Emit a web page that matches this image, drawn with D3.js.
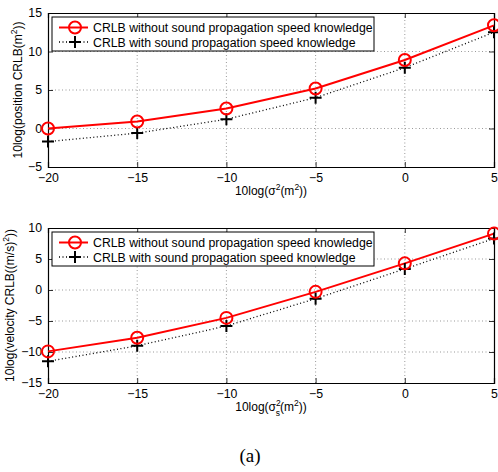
<!DOCTYPE html>
<html>
<head>
<meta charset="utf-8">
<script src="https://cdn.jsdelivr.net/npm/d3@7"></script>
<style>
body { margin: 0; background: #fff; }
svg { display: block; }
text { font-family: "Liberation Sans", Arial, sans-serif; fill: #000; }
</style>
</head>
<body>
<div id="chart"></div>
<script>
// data
var xVals = [-20, -15, -10, -5, 0, 5];
var posWithout = [0.0, 0.9, 2.6, 5.2, 8.9, 13.4];
var posWith = [-1.7, -0.6, 1.2, 4.0, 7.9, 12.5];
var velWithout = [-9.9, -7.7, -4.5, -0.3, 4.3, 9.1];
var velWith = [-11.5, -9.0, -5.8, -1.4, 3.4, 8.3];
var legendLabels = ["CRLB without sound propagation speed knowledge",
                    "CRLB with sound propagation speed knowledge"];
var posTicks = [-5, 0, 5, 10, 15];
var velTicks = [-15, -10, -5, 0, 5, 10];

var width = 498, height = 472;
var fs = 12.3;
var svg = d3.select("#chart").append("svg")
    .attr("width", width)
    .attr("height", height);

function fmt(d){ return d < 0 ? "\u2212" + Math.abs(d) : "" + d }

function panel(cfg){
    var x = d3.scaleLinear().domain([-20, 5]).range([48, 494]);
    var y = d3.scaleLinear().domain(cfg.domain).range([cfg.bottom, cfg.top]);
    var g = svg.append("g");

    // grid
    g.selectAll(".gx").data(xVals.slice(1, -1)).enter().append("line")
        .attr("x1", function(d){ return x(d) }).attr("x2", function(d){ return x(d) })
        .attr("y1", cfg.top).attr("y2", cfg.bottom)
        .attr("stroke", "#555").attr("stroke-width", 0.6).attr("stroke-dasharray", "1,2.5");
    g.selectAll(".gy").data(cfg.ticks.slice(1, -1)).enter().append("line")
        .attr("y1", function(d){ return y(d) }).attr("y2", function(d){ return y(d) })
        .attr("x1", 48).attr("x2", 494)
        .attr("stroke", "#555").attr("stroke-width", 0.6).attr("stroke-dasharray", "1,2.5");

    // axes (matlab style ticks inside, on all four sides)
    var ax = d3.axisBottom(x).tickValues(xVals).tickSize(-5).tickPadding(6).tickFormat(fmt);
    var axT = d3.axisTop(x).tickValues(xVals).tickSize(-5).tickFormat("");
    var ay = d3.axisLeft(y).tickValues(cfg.ticks).tickSize(-5).tickPadding(6).tickFormat(fmt);
    var ayR = d3.axisRight(y).tickValues(cfg.ticks).tickSize(-5).tickFormat("");
    [[ax, "translate(0," + cfg.bottom + ")"], [axT, "translate(0," + cfg.top + ")"],
     [ay, "translate(48,0)"], [ayR, "translate(494,0)"]].forEach(function(a){
        var s = g.append("g").attr("transform", a[1]).call(a[0]);
        s.select(".domain").attr("stroke", "#000").attr("stroke-width", 1.2);
        s.selectAll(".tick line").attr("stroke", "#000").attr("stroke-width", 0.8);
        s.selectAll("text").attr("font-size", fs)
            .style("font-family", '"Liberation Sans", Arial, sans-serif');
    });

    var line = d3.line().x(function(d, i){ return x(xVals[i]) }).y(function(d){ return y(d) });

    g.append("path").datum(cfg.withK).attr("d", line)
        .attr("fill", "none").attr("stroke", "#000").attr("stroke-width", 1.3)
        .attr("stroke-dasharray", "1,2.5");
    g.append("path").datum(cfg.without).attr("d", line)
        .attr("fill", "none").attr("stroke", "#f00").attr("stroke-width", 2);

    g.selectAll(".plus").data(cfg.withK).enter().append("path")
        .attr("d", function(d, i){ var px = x(xVals[i]), py = y(d);
            return "M" + (px - 6) + "," + py + "H" + (px + 6) + "M" + px + "," + (py - 6) + "V" + (py + 6) })
        .attr("stroke", "#000").attr("stroke-width", 2);
    g.selectAll(".circ").data(cfg.without).enter().append("circle")
        .attr("cx", function(d, i){ return x(xVals[i]) })
        .attr("cy", function(d){ return y(d) })
        .attr("r", 6).attr("fill", "none").attr("stroke", "#f00").attr("stroke-width", 2);

    // legend
    var lg = g.append("g").attr("transform", "translate(52," + (cfg.top + 4) + ")");
    lg.append("rect").attr("width", 322).attr("height", 34)
        .attr("fill", "#fff").attr("stroke", "#000").attr("stroke-width", 1);
    var r1 = 10.5, r2 = 25;
    lg.append("line").attr("x1", 7).attr("x2", 36).attr("y1", r1).attr("y2", r1)
        .attr("stroke", "#f00").attr("stroke-width", 2);
    lg.append("circle").attr("cx", 23).attr("cy", r1).attr("r", 6)
        .attr("fill", "none").attr("stroke", "#f00").attr("stroke-width", 2);
    lg.append("line").attr("x1", 7).attr("x2", 36).attr("y1", r2).attr("y2", r2)
        .attr("stroke", "#000").attr("stroke-width", 1.3).attr("stroke-dasharray", "1,2.5");
    lg.append("path").attr("d", "M17," + r2 + "H29M23," + (r2 - 6) + "V" + (r2 + 6))
        .attr("stroke", "#000").attr("stroke-width", 2);
    lg.selectAll(".lt").data(legendLabels).enter().append("text")
        .attr("x", 41).attr("y", function(d, i){ return (i ? r2 : r1) + 4.5 })
        .attr("font-size", fs).text(function(d){ return d });

    // x label
    var xl = g.append("text").attr("x", 271).attr("y", cfg.bottom + 28)
        .attr("text-anchor", "middle").attr("font-size", 12);
    xl.append("tspan").text("10log(\u03c3");
    xl.append("tspan").attr("font-size", 8.5).attr("dy", -5).text("2");
    if (cfg.sub) xl.append("tspan").attr("font-size", 8.5).attr("dx", -5).attr("dy", 10).text("s");
    xl.append("tspan").attr("dy", cfg.sub ? -5 : 5).text("(m");
    xl.append("tspan").attr("font-size", 8.5).attr("dy", -5).text("2");
    xl.append("tspan").attr("dy", 5).text("))");

    // y label
    var yl = g.append("text")
        .attr("transform", "translate(" + cfg.ylx + "," + ((cfg.top + cfg.bottom) / 2) + ") rotate(-90)")
        .attr("text-anchor", "middle").attr("font-size", 12);
    cfg.ylab.forEach(function(p){
        var t = yl.append("tspan").text(p[0]);
        if (p[1] == "sup") t.attr("font-size", 8.5).attr("dy", -5);
        if (p[1] == "back") t.attr("dy", 5);
    });
}

panel({domain: [-5, 15], top: 13, bottom: 167, ticks: posTicks,
       without: posWithout, withK: posWith, sub: false, ylx: 22,
       ylab: [["10log(position CRLB(m"], ["2", "sup"], ["))", "back"]]});
panel({domain: [-15, 10], top: 228, bottom: 383, ticks: velTicks,
       without: velWithout, withK: velWith, sub: true, ylx: 14,
       ylab: [["10log(velocity CRLB((m/s)"], ["2", "sup"], ["))", "back"]]});

svg.append("text").attr("x", 250).attr("y", 462).attr("text-anchor", "middle")
    .style("font-family", '"Liberation Serif", "Times New Roman", serif')
    .attr("font-size", 19).text("(a)");
</script>
</body>
</html>
